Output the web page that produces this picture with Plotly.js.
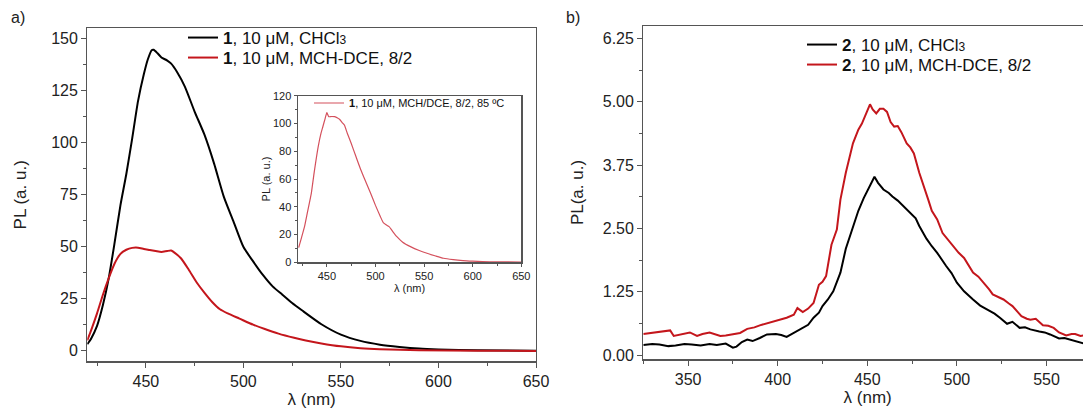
<!DOCTYPE html>
<html>
<head>
<meta charset="utf-8">
<script src="https://cdn.plot.ly/plotly-3.0.1.min.js"></script>
<style>
html,body{margin:0;padding:0;overflow:hidden;background:#fff;}
#chart{width:1092px;height:411px;}
</style>
</head>
<body>
<div id="chart"></div>
<script>
// ---------- data ----------
// Panel a: compound 1, CHCl3
const lamA1 = [420,422,425,428,431,434,437,440,443,446,449,451,453,454,456,458,461,463,466,470,475,480,485,490,495,500,505,510,515,520,525,530,540,550,560,570,580,590,600,620,650];
const plA1  = [3.2,6,12,22,35,52,70,85,102,120,133,140,144.5,144.7,143,141,139.5,138,134,127,115,104,90,74,62,50,43,36.5,31,27,23,19.5,12.8,7.8,4.8,3,1.9,1.1,0.7,0.3,0.1];
// Panel a: compound 1, MCH-DCE 8/2
const lamA2 = [420,422,425,428,431,434,437,440,443,446,449,452,455,458,461,463,465,468,472,476,480,484,488,492,498,505,511,518,526,532,540,550,560,570,590,620,650];
const plA2  = [5.1,10,18,27,35,42,46.6,48.6,49.5,49.6,49,48.5,48,47.5,48,48.2,47,44.5,39,33,28,23.5,20,18,15.5,12.6,10.5,8.3,6.3,5,3.6,2.2,1.3,0.8,0.3,0.1,0];
// Inset: compound 1, MCH/DCE 8/2, 85 ºC
const lamIn = [421,424,427,430,434,437,441,444,446,448,450,452,455,458,461,463,466,468,471,475,480,485,490,495,500,505,508,511,514,518,522,528,536,545,553,562,570,580,590,600,610,625,650];
const plIn  = [10.6,18,25.7,36,49.7,65,83,93,98,103,107.8,104.9,105,104.9,104,103,100.5,98.9,93,85.7,76,66.5,58,49.7,41,33,28.6,27,25.7,22,18.5,14.5,11.3,8.5,6.5,4.5,2.9,1.9,1.2,0.8,0.5,0.3,0.2];
// Panel b: compound 2, CHCl3
const lamB1 = [325,330,334,339,343,348,352,357,362,366,371,375,377,380,383,386,390,394,399,402,405,409,414,417,420,423,425,428,431,435,438,442,445,448,451,454,456,459,462,464,467,470,474,477,479,483,486,489,494,497,500,504,509,513,518,521,524,528,531,535,538,541,546,549,552,557,560,563,566,569,572];
const plB1  = [0.20,0.22,0.21,0.18,0.19,0.22,0.21,0.19,0.22,0.20,0.23,0.15,0.17,0.26,0.31,0.28,0.34,0.41,0.42,0.40,0.36,0.44,0.54,0.60,0.74,0.84,0.97,1.10,1.26,1.63,2.10,2.55,2.85,3.10,3.30,3.52,3.40,3.27,3.20,3.13,3.05,2.95,2.81,2.70,2.55,2.30,2.15,2.02,1.76,1.62,1.43,1.26,1.10,0.98,0.88,0.82,0.74,0.62,0.66,0.54,0.55,0.51,0.47,0.45,0.41,0.33,0.34,0.31,0.28,0.24,0.22];
// Panel b: compound 2, MCH-DCE 8/2
const lamB2 = [325,329,332,336,340,342,345,347,351,355,358,362,365,368,371,375,379,383,387,390,394,397,401,405,409,411,414,417,420,423,425,427,430,433,435,438,442,445,447,450,451.5,453,455,457,459,461,463,465,467,469,472,474,476,479,482,484,486,489,492,495,498,501,504,507,509,512,515,518,520,523,526,529,531,534,536,539,541,544,546,548,551,554,557,559,561,564,566,569,572];
const plB2  = [0.42,0.44,0.44,0.46,0.49,0.38,0.40,0.41,0.45,0.38,0.42,0.45,0.42,0.38,0.39,0.42,0.44,0.52,0.55,0.59,0.63,0.67,0.70,0.74,0.80,0.93,0.85,0.92,1.03,1.39,1.45,1.56,2.18,2.48,3.07,3.60,4.18,4.45,4.57,4.85,4.95,4.85,4.77,4.86,4.86,4.80,4.60,4.51,4.52,4.40,4.18,4.10,3.98,3.60,3.30,3.07,2.85,2.68,2.41,2.28,2.15,2.02,1.92,1.75,1.63,1.55,1.43,1.30,1.20,1.15,1.10,1.02,0.97,0.85,0.77,0.72,0.70,0.72,0.66,0.59,0.58,0.54,0.45,0.42,0.39,0.42,0.42,0.38,0.40];

const nameA1 = '<b>1</b>, 10 μM, CHCl<span style="font-size:12px">3</span>';
const nameA2 = '<b>1</b>, 10 μM, MCH-DCE, 8/2';
const nameIn = '<b>1</b>, 10 μM, MCH/DCE, 8/2, 85 ºC';
const nameB1 = '<b>2</b>, 10 μM, CHCl<span style="font-size:12px">3</span>';
const nameB2 = '<b>2</b>, 10 μM, MCH-DCE, 8/2';
const xTitle = 'λ (nm)';
const yTitleA = 'PL (a. u.)';
const yTitleB = 'PL(a. u.)';

// ---------- layout helpers ----------
const W = 1092, H = 411;
const fx = p => p / W;
const fy = p => 1 - p / H;
const RED = '#c4161c';
const AX = '#555555';
const FONT = 'Liberation Sans, Arial, sans-serif';

function axisBase(extra) {
  return Object.assign({
    showline: true, linecolor: AX, linewidth: 1.2, mirror: true,
    showgrid: false, zeroline: false,
    ticks: 'outside', ticklen: 5, tickwidth: 1, tickcolor: AX,
    tickfont: {family: FONT, size: 16, color: '#222'},
    fixedrange: true
  }, extra);
}

const traces = [
  {x: lamA1, y: plA1, name: nameA1, type: 'scatter', mode: 'lines', line: {color: '#000', width: 2, shape: 'spline', smoothing: 0.6}, xaxis: 'x', yaxis: 'y', legend: 'legend'},
  {x: lamA2, y: plA2, name: nameA2, type: 'scatter', mode: 'lines', line: {color: RED, width: 2, shape: 'spline', smoothing: 0.6}, xaxis: 'x', yaxis: 'y', legend: 'legend4'},
  {x: lamIn, y: plIn, name: nameIn, type: 'scatter', mode: 'lines', line: {color: '#d4505c', width: 1.2, shape: 'spline', smoothing: 0.5}, xaxis: 'x2', yaxis: 'y2', legend: 'legend2'},
  {x: lamB1, y: plB1, name: nameB1, type: 'scatter', mode: 'lines', line: {color: '#000', width: 2}, xaxis: 'x3', yaxis: 'y3', legend: 'legend3'},
  {x: lamB2, y: plB2, name: nameB2, type: 'scatter', mode: 'lines', line: {color: RED, width: 2}, xaxis: 'x3', yaxis: 'y3', legend: 'legend5'}
];

const legendBase = {
  bgcolor: 'rgba(0,0,0,0)', borderwidth: 0, xanchor: 'left', yanchor: 'middle',
  tracegroupgap: 0, itemwidth: 30
};
const bigLegFont = {family: FONT, size: 17, color: '#111'};

const layout = {
  width: W, height: H,
  margin: {l: 0, r: 0, t: 0, b: 0},
  paper_bgcolor: '#fff', plot_bgcolor: 'rgba(0,0,0,0)',
  font: {family: FONT, color: '#222'},
  showlegend: true,
  xaxis: axisBase({
    domain: [fx(87.3), fx(536)], range: [420, 650], anchor: 'y',
    dtick: 50, tick0: 0,
    minor: {dtick: 25, ticks: 'outside', ticklen: 3, tickcolor: AX},
    title: {text: xTitle, font: {family: FONT, size: 17, color: '#222'}, standoff: 2}
  }),
  yaxis: axisBase({
    domain: [fy(361.3), fy(28.3)], range: [-5, 155], anchor: 'x',
    dtick: 25, tick0: 0,
    minor: {dtick: 12.5, ticks: 'outside', ticklen: 3, tickcolor: AX},
    title: {text: yTitleA, font: {family: FONT, size: 17, color: '#222'}, standoff: 20}
  }),
  xaxis2: axisBase({
    domain: [fx(297.7), fx(521.3)], range: [420, 650], anchor: 'y2',
    dtick: 50, tick0: 0, ticklen: 3,
    tickfont: {family: FONT, size: 11, color: '#222'},
    minor: {dtick: 25, ticks: 'outside', ticklen: 2, tickcolor: AX},
    title: {text: xTitle, font: {family: FONT, size: 11, color: '#222'}, standoff: 0}
  }),
  yaxis2: axisBase({
    domain: [fy(262.3), fy(95.7)], range: [0, 120], anchor: 'x2',
    dtick: 20, tick0: 0, ticklen: 3,
    tickfont: {family: FONT, size: 11, color: '#222'},
    minor: {dtick: 10, ticks: 'outside', ticklen: 2, tickcolor: AX},
    title: {text: yTitleA, font: {family: FONT, size: 11, color: '#222'}, standoff: 0}
  }),
  xaxis3: axisBase({
    domain: [fx(643.3), 1], range: [325, 325 + (W - 643.3) / 1.792], anchor: 'y3',
    dtick: 50, tick0: 0,
    minor: {dtick: 25, ticks: 'outside', ticklen: 3, tickcolor: AX},
    title: {text: xTitle, font: {family: FONT, size: 17, color: '#222'}, standoff: 2}
  }),
  yaxis3: axisBase({
    domain: [fy(359.3), fy(25.7)], range: [-0.08, 6.5], anchor: 'x3',
    tickvals: [0, 1.25, 2.5, 3.75, 5, 6.25], tickformat: '.2f',
    minor: {tickvals: [0.625, 1.875, 3.125, 4.375, 5.625], ticks: 'outside', ticklen: 3, tickcolor: AX},
    title: {text: yTitleB, font: {family: FONT, size: 17, color: '#222'}, standoff: 14}
  }),
  legend:  Object.assign({}, legendBase, {x: fx(183), y: fy(38), font: bigLegFont}),
  legend4: Object.assign({}, legendBase, {x: fx(183), y: fy(58), font: bigLegFont}),
  legend2: Object.assign({}, legendBase, {x: fx(309), y: fy(103), font: {family: FONT, size: 11, color: '#111'}}),
  legend3: Object.assign({}, legendBase, {x: fx(802), y: fy(45), font: bigLegFont}),
  legend5: Object.assign({}, legendBase, {x: fx(802), y: fy(65), font: bigLegFont}),
  annotations: [
    {text: 'a)', xref: 'paper', yref: 'paper', x: fx(18), y: fy(18), xanchor: 'center', yanchor: 'middle', showarrow: false, font: {family: FONT, size: 16, color: '#222'}},
    {text: 'b)', xref: 'paper', yref: 'paper', x: fx(573), y: fy(18), xanchor: 'center', yanchor: 'middle', showarrow: false, font: {family: FONT, size: 16, color: '#222'}}
  ]
};

Plotly.newPlot('chart', traces, layout, {staticPlot: true, displayModeBar: false});
</script>
</body>
</html>
